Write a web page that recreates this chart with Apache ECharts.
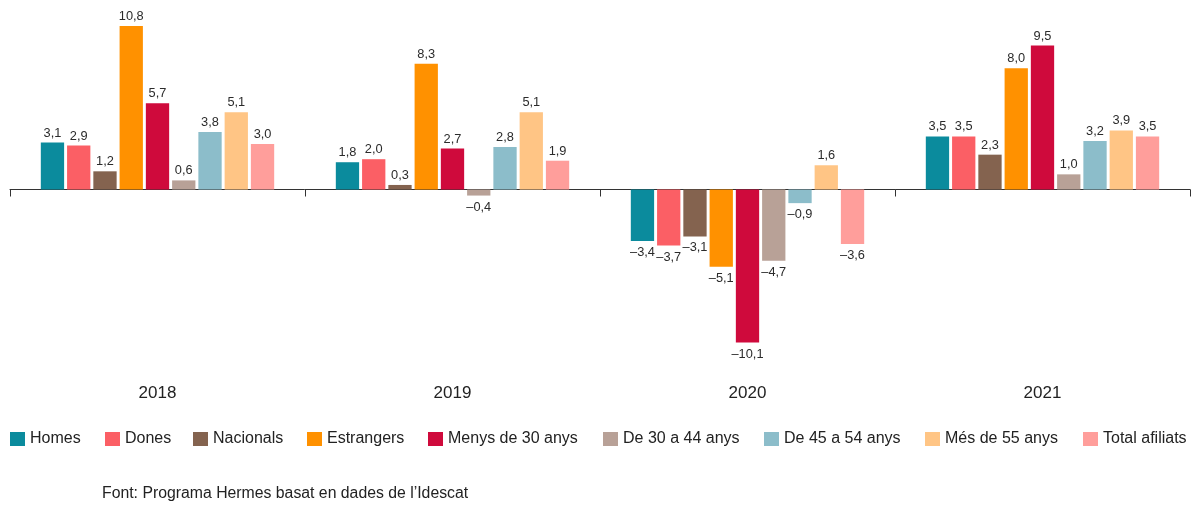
<!DOCTYPE html>
<html>
<head>
<meta charset="utf-8">
<script src="https://cdn.jsdelivr.net/npm/echarts@6/dist/echarts.min.js"></script>
<style>
html,body{margin:0;padding:0;background:#fff;}
#c{width:1201px;height:521px;}
</style>
</head>
<body>
<div id="c"></div>
<script>
var years = ['2018', '2019', '2020', '2021'];
var seriesNames = ['Homes', 'Dones', 'Nacionals', 'Estrangers', 'Menys de 30 anys', 'De 30 a 44 anys', 'De 45 a 54 anys', 'Més de 55 anys', 'Total afiliats'];
var homes      = [3.1, 1.8, -3.4, 3.5];
var dones      = [2.9, 2.0, -3.7, 3.5];
var nacionals  = [1.2, 0.3, -3.1, 2.3];
var estrangers = [10.8, 8.3, -5.1, 8.0];
var menys30    = [5.7, 2.7, -10.1, 9.5];
var de30a44    = [0.6, -0.4, -4.7, 1.0];
var de45a54    = [3.8, 2.8, -0.9, 3.2];
var mes55      = [5.1, 5.1, 1.6, 3.9];
var total      = [3.0, 1.9, -3.6, 3.5];
var sourceText = 'Font: Programa Hermes basat en dades de l’Idescat';

var allValues = [homes, dones, nacionals, estrangers, menys30, de30a44, de45a54, mes55, total];
var colors = ['#0b8b9d', '#fb5f65', '#84634f', '#ff9100', '#cf0a3c', '#b8a197', '#8cbdca', '#ffc585', '#ff9e9b'];
var legendLeft = [10, 105, 193, 307, 428, 603, 764, 925, 1083];
var FONT = '"Liberation Sans", Arial, Helvetica, sans-serif';

function fmt(v) {
  var s = Math.abs(v).toFixed(1).replace('.', ',');
  return v < 0 ? '\u2013' + s : s;
}

var series = seriesNames.map(function (name, i) {
  return {
    name: name,
    type: 'bar',
    barWidth: 23.3,
    barGap: '12.7%',
    itemStyle: { color: colors[i] },
    label: {
      show: true,
      position: 'top',
      distance: 3,
      fontFamily: FONT,
      fontSize: 12.8,
      color: '#2b2b2b',
      formatter: function (p) { return fmt(p.value); }
    },
    data: allValues[i].map(function (v) {
      return v < 0 ? { value: v, label: { position: 'bottom', distance: 5 } } : v;
    })
  };
});

var legends = seriesNames.map(function (name, i) {
  return {
    left: legendLeft[i],
    top: 431,
    padding: 0,
    itemWidth: 15,
    itemHeight: 14,
    itemGap: 0,
    icon: 'rect',
    textStyle: { fontFamily: FONT, fontSize: 16, color: '#222' },
    data: [name]
  };
});

var chart = echarts.init(document.getElementById('c'), null, { renderer: 'canvas' });
chart.setOption({
  animation: false,
  backgroundColor: '#fff',
  grid: { left: 10, right: 11, top: 22.85, bottom: 149.7, containLabel: false, outerBoundsMode: 'none' },
  legend: legends,
  xAxis: {
    type: 'category',
    data: years,
    axisLine: { show: true, onZero: true, lineStyle: { color: '#333', width: 1 } },
    axisTick: { show: true, length: 7, lineStyle: { color: '#333' } },
    axisLabel: { show: true, margin: 14, fontFamily: FONT, fontSize: 17, color: '#222' },
    splitLine: { show: false }
  },
  yAxis: {
    type: 'value',
    min: -12,
    max: 11,
    show: false,
    splitLine: { show: false }
  },
  graphic: [{
    type: 'text',
    left: 102,
    top: 486,
    style: { text: sourceText, fontFamily: FONT, fontSize: 15.8, fill: '#222' }
  }],
  series: series
});
</script>
</body>
</html>
